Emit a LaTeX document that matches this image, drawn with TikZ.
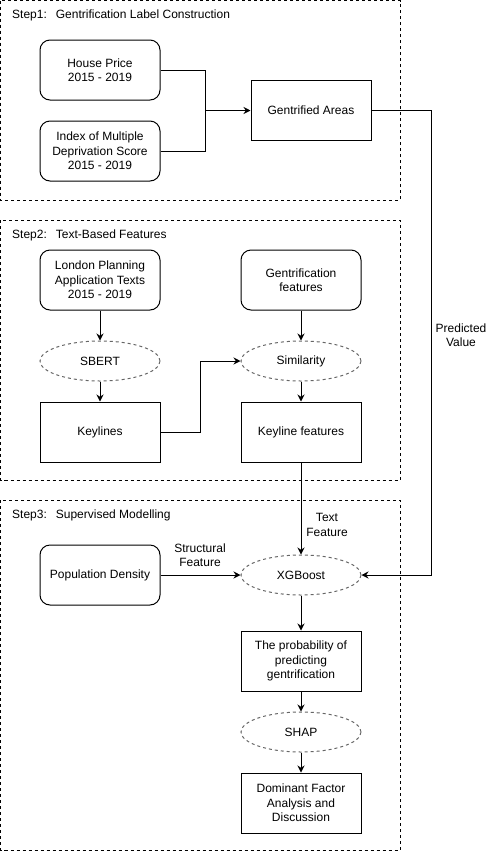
\documentclass[tikz,border=0pt]{standalone}
\usepackage{fontspec}
\setmainfont{Liberation Sans}
\usepackage{tikz}
\usetikzlibrary{positioning,arrows.meta,shapes.geometric,calc}
\definecolor{dashgray}{HTML}{666666}
\tikzset{
  roundbox/.style={draw,rounded corners=10pt,align=center,minimum width=120pt,minimum height=60pt,inner sep=2pt,line width=1pt},
  plainbox/.style={draw,align=center,minimum width=120pt,minimum height=60pt,inner sep=2pt,line width=1pt},
  method/.style={draw=dashgray,ellipse,dash pattern=on 3pt off 3pt,minimum width=120pt,minimum height=40pt,inner sep=0pt,line width=1pt},
  frame/.style={draw,dash pattern=on 3pt off 3pt,line width=1pt},
  arr/.style={-{Stealth[length=7pt,width=7pt]},line width=1pt},
  conn/.style={line width=1pt},
  steptitle/.style={anchor=west,inner sep=0pt},
  edgetext/.style={align=center,inner sep=0pt}
}

\begin{document}
\begin{tikzpicture}[x=1pt,y=-1pt,font=\fontsize{12pt}{14.5pt}\selectfont]
\useasboundingbox (0,0) rectangle (497,852);
% step frames
\draw[frame] (0.5,0.5) rectangle (400,200);
\draw[frame] (0.5,220) rectangle (400,480);
\draw[frame] (0.5,500) rectangle (400,850);
\node[steptitle] (title1) at (12,15) {Step1:\hspace{9pt}Gentrification Label Construction};
\node[steptitle] (title2) at (12,235) {Step2:\hspace{9pt}Text-Based Features};
\node[steptitle] (title3) at (12,515) {Step3:\hspace{9pt}Supervised Modelling};

% step 1
\node[roundbox] (house) at (100,70) {House Price\\2015 - 2019};
\node[roundbox, below=20pt of house] (imd) {Index of Multiple\\Deprivation Score\\2015 - 2019};
\coordinate (join1) at ($(house.east)!.5!(imd.east)$);
\node[plainbox, right=90pt of join1] (areas) {Gentrified Areas};
\coordinate (bend1) at ([xshift=45pt]join1);
\draw[conn] (house.east) -| (bend1);
\draw[conn] (imd.east) -| (bend1);
\draw[arr] (bend1) -- (areas);

% step 2
\node[roundbox] (london) at (100,280) {London Planning\\Application Texts\\2015 - 2019};
\node[method, below=30pt of london] (sbert) {SBERT};
\node[plainbox, below=20pt of sbert] (keylines) {Keylines};
\node[roundbox, right=80pt of london] (gentfeat) {Gentrification\\features};
\node[method, below=30pt of gentfeat] (similarity) {Similarity};
\node[plainbox, below=20pt of similarity] (keyfeat) {Keyline features};
\draw[arr] (london) -- (sbert);
\draw[arr] (sbert) -- (keylines);
\draw[arr] (gentfeat) -- (similarity);
\draw[arr] (similarity) -- (keyfeat);
\draw[arr] (keylines.east) -- ++(40pt,0) |- (similarity.west);

% step 3
\node[roundbox] (popden) at (100,575) {Population Density};
\node[method, right=80pt of popden] (xgb) {XGBoost};
\node[plainbox, below=35pt of xgb] (prob) {The probability of\\predicting\\gentrification};
\node[method, below=20pt of prob] (shap) {SHAP};
\node[plainbox, below=20pt of shap] (dominant) {Dominant Factor\\Analysis and\\Discussion};
\draw[arr] (popden) -- (xgb);
\draw[arr] (keyfeat) -- (xgb);
\draw[arr] (xgb) -- (prob);
\draw[arr] (prob) -- (shap);
\draw[arr] (shap) -- (dominant);
\coordinate (rail) at ([xshift=60pt]areas.east);
\draw[arr] (areas.east) -- (rail) |- (xgb.east);

% edge labels
\node[edgetext] (lblpred) at (461,335) {Predicted\\Value};
\node[edgetext] (lbltext) at (327,525) {Text\\Feature};
\node[edgetext] (lblstruct) at (200,555) {Structural\\Feature};
\end{tikzpicture}
\end{document}
